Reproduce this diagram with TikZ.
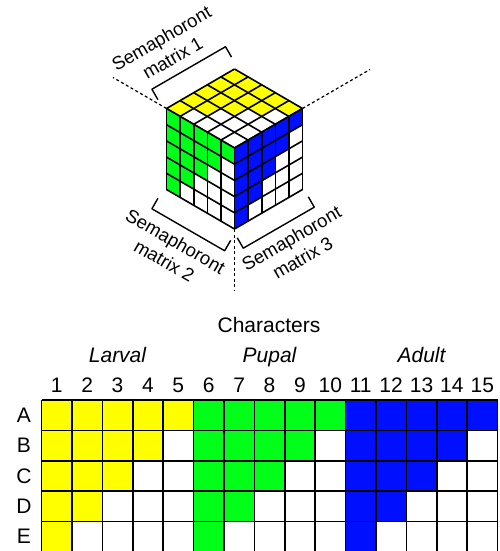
\documentclass[tikz,border=0pt]{standalone}
\usepackage{fontspec}
\setmainfont{Liberation Sans}
\definecolor{cy}{RGB}{255,255,0}
\definecolor{cg}{RGB}{0,255,24}
\definecolor{cb}{RGB}{0,16,255}
\begin{document}
\begin{tikzpicture}[x=1pt,y=-1pt,line join=round,
  gridline/.style={line width=1.6pt},
  cubeline/.style={line width=1.6pt},
  dashline/.style={line width=1.2pt,dash pattern=on 3pt off 2.5pt},
  bracketline/.style={line width=1.4pt},
  cubelabel/.style={align=center,font=\fontsize{18.5}{22.5}\selectfont,inner sep=0pt},
  gridlabel/.style={font=\fontsize{21}{25}\selectfont,inner sep=0pt,anchor=base}]
\useasboundingbox (0,0) rectangle (499,551);
\clip (0,0) rectangle (499,551);

% ---------- cube corners ----------
\coordinate (L) at (166.5,108.5);
\coordinate (R) at (302.5,108.5);
\coordinate (C) at (234.5,148);
\coordinate (T) at (234.5,69);
\coordinate (B) at (234.5,229);
\coordinate (LB) at (166.5,189.5);
\coordinate (Lend) at (113,77.5);
\coordinate (Rend) at (370,69.5);
\coordinate (Bend) at (234.5,290);

% top face (yellow matrix)
\begin{scope}[shift={(T)},x={(13.6pt,-7.9pt)},y={(-13.6pt,-7.9pt)}]
  \foreach \u in {0,...,4}{\foreach \v in {0,...,4}{
    \pgfmathtruncatemacro{\on}{(\u+\v<=4)?1:0}
    \ifnum\on=1 \fill[cy] (\u,\v)--(\u+1,\v)--(\u+1,\v+1)--(\u,\v+1)--cycle;
    \else \fill[white] (\u,\v)--(\u+1,\v)--(\u+1,\v+1)--(\u,\v+1)--cycle;\fi}}
  \foreach \i in {0,...,5}{\draw[cubeline] (\i,0)--(\i,5); \draw[cubeline] (0,\i)--(5,\i);}
\end{scope}
% left face (green matrix)
\begin{scope}[shift={(L)},x={(13.6pt,-7.9pt)},y={(0pt,-16.2pt)}]
  \foreach \u in {0,...,4}{\foreach \v in {0,...,4}{
    \pgfmathtruncatemacro{\on}{(\u+\v<=4)?1:0}
    \ifnum\on=1 \fill[cg] (\u,\v)--(\u+1,\v)--(\u+1,\v+1)--(\u,\v+1)--cycle;
    \else \fill[white] (\u,\v)--(\u+1,\v)--(\u+1,\v+1)--(\u,\v+1)--cycle;\fi}}
  \foreach \i in {0,...,5}{\draw[cubeline] (\i,0)--(\i,5); \draw[cubeline] (0,\i)--(5,\i);}
\end{scope}
% right face (blue matrix)
\begin{scope}[shift={(C)},x={(13.6pt,7.9pt)},y={(0pt,-16.2pt)}]
  \foreach \u in {0,...,4}{\foreach \v in {0,...,4}{
    \pgfmathtruncatemacro{\on}{(\u+\v<=4)?1:0}
    \ifnum\on=1 \fill[cb] (\u,\v)--(\u+1,\v)--(\u+1,\v+1)--(\u,\v+1)--cycle;
    \else \fill[white] (\u,\v)--(\u+1,\v)--(\u+1,\v+1)--(\u,\v+1)--cycle;\fi}}
  \foreach \i in {0,...,5}{\draw[cubeline] (\i,0)--(\i,5); \draw[cubeline] (0,\i)--(5,\i);}
\end{scope}

% dashed axes
\draw[dashline] (L) -- (Lend);
\draw[dashline] (R) -- (Rend);
\draw[dashline] (B) -- (Bend);

% brackets
\begin{scope}[shift={(L)},rotate=30]
  \draw[bracketline] (-3,-12) -- (-3,-24) -- (82,-24) -- (82,-12);
\end{scope}
\begin{scope}[shift={(LB)},rotate=-30]
  \draw[bracketline] (-3,12) -- (-3,24) -- (81,24) -- (81,12);
\end{scope}
\begin{scope}[shift={(B)},rotate=30]
  \draw[bracketline] (-2,9) -- (-2,21) -- (80,21) -- (80,9);
\end{scope}

% cube labels
\node[cubelabel,rotate=30] (m1) at (167,48) {Semaphoront\\matrix 1};
\node[cubelabel,rotate=-30] (m2) at (170,251) {Semaphoront\\matrix 2};
\node[cubelabel,rotate=30] (m3) at (297,248) {Semaphoront\\matrix 3};

% ---------- character table ----------
\foreach \bl/\col in {0/cy,1/cg,2/cb}{
  \foreach \k in {1,...,5}{
    \pgfmathtruncatemacro{\mx}{6-\k}
    \foreach \r in {1,...,\mx}{
      \fill[\col] ({41.5+30.4*(5*\bl+\k-1)},{400+30.4*(\r-1)}) rectangle ++(30.4,30.4);
    }}}
\foreach \i in {0,...,15}{\draw[gridline] ({41.5+30.4*\i},400) -- ++(0,155);}
\foreach \j in {0,...,5}{\draw[gridline] (41.5,{400+30.4*\j}) -- (497.5,{400+30.4*\j});}

\foreach \i in {1,...,15}{\node[gridlabel] (c\i) at ({41.5+30.4*(\i-0.5)},392.7) {\i};}
\foreach \l [count=\r] in {A,B,C,D,E}{\node[gridlabel] (r\l) at (24,{422.3+30.4*(\r-1)}) {\l};}
\node[gridlabel] (chars) at (269,332.3) {Characters};
\node[gridlabel,font=\fontsize{21}{25}\selectfont\itshape] (larval) at (117.5,362.7) {Larval};
\node[gridlabel,font=\fontsize{21}{25}\selectfont\itshape] (pupal) at (269.5,362.7) {Pupal};
\node[gridlabel,font=\fontsize{21}{25}\selectfont\itshape] (adult) at (421.5,362.7) {Adult};
\end{tikzpicture}
\end{document}
